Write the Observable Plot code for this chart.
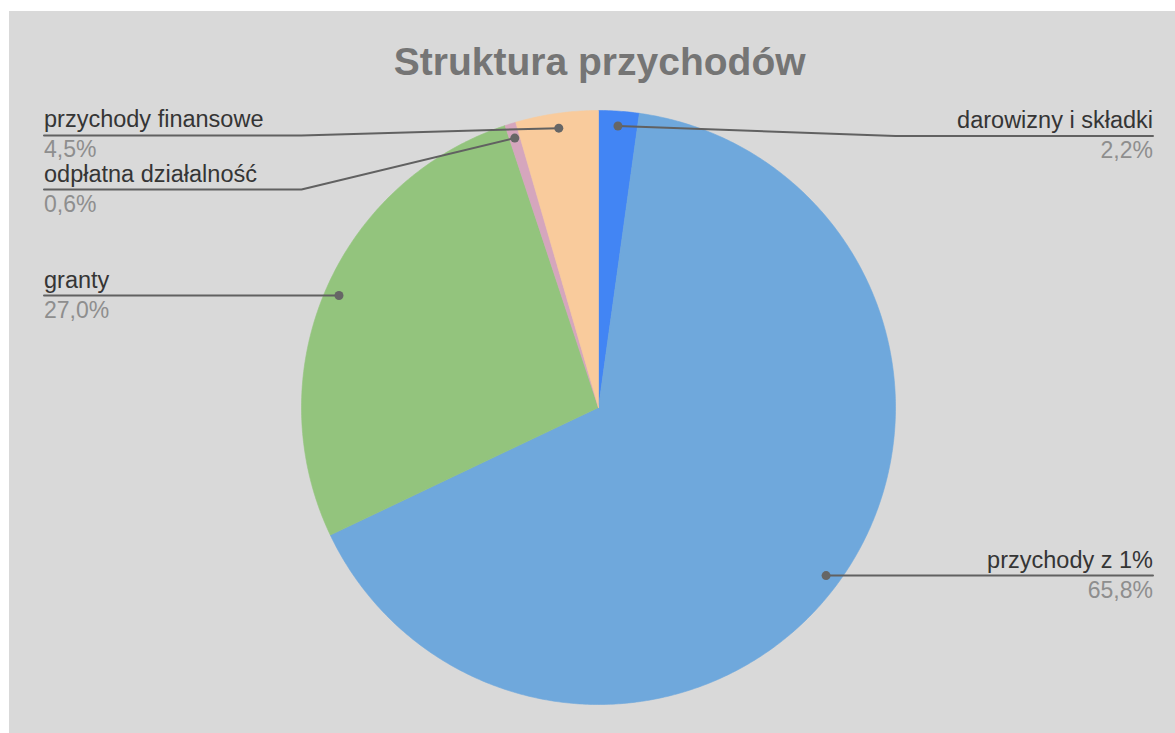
<!DOCTYPE html>
<html>
<head>
<meta charset="utf-8">
<script src="https://cdn.jsdelivr.net/npm/d3@7"></script>
<script src="https://cdn.jsdelivr.net/npm/@observablehq/plot@0.6"></script>
<style>
  html, body { margin: 0; padding: 0; background: #ffffff; }
  #chart { position: absolute; left: 9px; top: 11px; width: 1166px; height: 722px; background: #d9d9d9; }
</style>
</head>
<body>
<div id="chart"></div>
<script>
// ---- data ----
const title = "Struktura przychodów";
const labels = ["darowizny i składki", "przychody z 1%", "granty", "odpłatna działalność", "przychody finansowe"];
const values = [2.2, 65.8, 27.0, 0.6, 4.5];
const colors = ["#4285f4", "#6fa8dc", "#93c47d", "#d5a6bd", "#f9cb9c"];

// ---- label layout (radius units) ----
const labelSide = [1, 1, -1, -1, -1];
const labelRowY = [0.914, -0.566, 0.377, 0.734, 0.916];
const labelTextX = 1.867;
const bendX = 1.0;
const anchorR = 0.95;

// ---- derived geometry ----
const arcs = d3.pie().sort(null).value(d => d)(values);
const slicePoints = [];
arcs.forEach((a, i) => {
  const n = Math.max(2, Math.ceil((a.endAngle - a.startAngle) / (Math.PI / 360)));
  slicePoints.push({label: labels[i], x: 0, y: 0});
  for (let k = 0; k <= n; k++) {
    const t = a.startAngle + (a.endAngle - a.startAngle) * k / n;
    slicePoints.push({label: labels[i], x: Math.sin(t), y: Math.cos(t)});
  }
  slicePoints.push({label: labels[i], x: 0, y: 0});
});

const fmt = v => v.toFixed(1).replace(".", ",") + "%";
const labelData = arcs.map((a, i) => {
  const mid = (a.startAngle + a.endAngle) / 2;
  const s = labelSide[i];
  return {
    label: labels[i],
    pct: fmt(values[i]),
    side: s,
    ax: anchorR * Math.sin(mid),
    ay: anchorR * Math.cos(mid),
    row: labelRowY[i],
    tx: s * labelTextX
  };
});
const leaderPoints = labelData.flatMap(d => {
  const horizontal = Math.abs(d.ay - d.row) < 0.02;
  const pts = [{label: d.label, x: d.ax, y: horizontal ? d.row : d.ay}];
  if (!horizontal) pts.push({label: d.label, x: d.side * Math.max(bendX, Math.abs(d.ax) + 0.05), y: d.row});
  pts.push({label: d.label, x: d.tx, y: d.row});
  return pts;
});
const leftLabels = labelData.filter(d => d.side < 0);
const rightLabels = labelData.filter(d => d.side > 0);

const W = 1166, H = 722;
const cxPage = 598 - 9, cyPage = 407 - 11, R = 297;
const labelFont = 23.5;

const textMarks = (data, anchor) => [
  Plot.text(data, {x: "tx", y: "row", text: "label", textAnchor: anchor, lineAnchor: "bottom", dy: -8, fontSize: labelFont, fill: "#353535"}),
  Plot.text(data, {x: "tx", y: "row", text: "pct", textAnchor: anchor, lineAnchor: "bottom", dy: 22, fontSize: 23, fill: "#8e8e8e"})
];

const chart = Plot.plot({
  width: W,
  height: H,
  margin: 0,
  style: {background: "#d9d9d9", fontFamily: "Arial, 'Liberation Sans', sans-serif", overflow: "visible"},
  x: {domain: [-cxPage / R, (W - cxPage) / R], axis: null},
  y: {domain: [-(H - cyPage) / R, cyPage / R], axis: null},
  color: {domain: labels, range: colors},
  marks: [
    Plot.line(slicePoints, {x: "x", y: "y", z: "label", fill: "label", stroke: "label", strokeWidth: 0.6, curve: "linear"}),
    Plot.line(leaderPoints, {x: "x", y: "y", z: "label", stroke: "#616161", strokeWidth: 2, curve: "linear"}),
    Plot.dot(labelData, {x: "ax", y: d => Math.abs(d.ay - d.row) < 0.02 ? d.row : d.ay, r: 4.5, fill: "#666666", stroke: "none"}),
    ...textMarks(leftLabels, "start"),
    ...textMarks(rightLabels, "end"),
    Plot.text([title], {x: 0.004, y: (cyPage - 63) / R, text: d => d, lineAnchor: "bottom", fontSize: 39, fontWeight: "bold", fill: "#757575"})
  ]
});
document.getElementById("chart").appendChild(chart);
</script>
</body>
</html>
